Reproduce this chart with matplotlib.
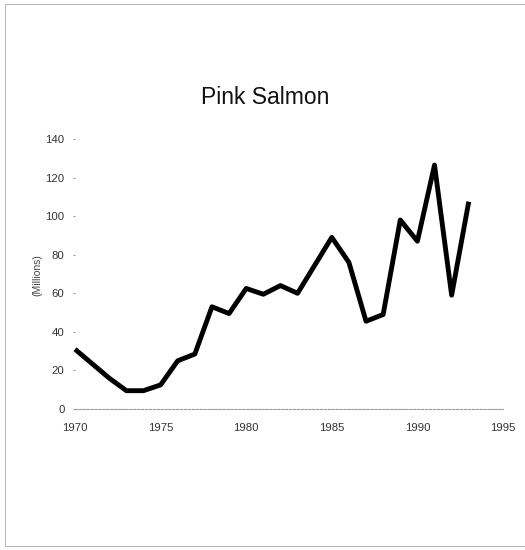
import matplotlib
matplotlib.use("Agg")
import matplotlib.pyplot as plt
from matplotlib.patches import Rectangle

years = list(range(1970, 1994))
catch_millions = [31, 23.5, 16, 9.5, 9.5, 12.5, 25, 28.5, 53, 49.5, 62.5, 59.5,
                  64, 60, 74.5, 89, 76, 45.5, 49, 98, 87, 126.5, 59, 107.5]
x_ticks = [1970, 1975, 1980, 1985, 1990, 1995]
y_ticks = [0, 20, 40, 60, 80, 100, 120, 140]
title = "Pink Salmon"
y_label = "(Millions)"

plt.rcParams['font.family'] = ['Liberation Sans', 'DejaVu Sans']

fig = plt.figure(figsize=(5.25, 5.5), dpi=100)
ax = fig.add_axes([75/525, 1 - 409/550, 428/525, 270/550])

ax.plot(years, catch_millions, color='black', linewidth=3.5,
        solid_joinstyle='round', solid_capstyle='butt', clip_on=False)

ax.set_xlim(1970, 1995)
ax.set_ylim(0, 140)
ax.set_xticks(x_ticks)
ax.set_yticks(y_ticks)
ax.set_xticklabels([str(v) for v in x_ticks])
ax.set_yticklabels([str(v) for v in y_ticks])

for s in ['top', 'right', 'left']:
    ax.spines[s].set_visible(False)
ax.spines['bottom'].set_color('#999999')
ax.spines['bottom'].set_linewidth(0.8)
ax.spines['bottom'].set_linestyle((0, (2, 1.5)))

ax.tick_params(axis='x', length=0, pad=10, labelsize=8.2, labelcolor='#333333')
ax.tick_params(axis='y', length=1.5, width=0.8, color='#999999', pad=6,
               labelsize=8.2, labelcolor='#333333')

fig.text(37/525, 1 - 275/550, y_label, rotation=90, ha='center', va='center',
         fontsize=7.5, color='#444444')
fig.text(265/525, 1 - 97/550, title, ha='center', va='center',
         fontsize=16.5, color='#111111')

# scanned page frame
fig.patches.append(Rectangle((5/525, 4/550), 530/525, 542/550, transform=fig.transFigure,
                             fill=False, edgecolor='#aaaaaa', linewidth=0.6))

fig.savefig('out.png', dpi=100, facecolor='white')
